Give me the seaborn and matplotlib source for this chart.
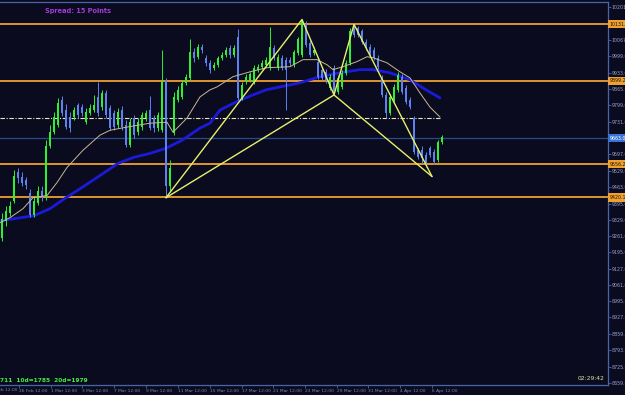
import numpy as np
import pandas as pd
import matplotlib
matplotlib.use("Agg")
import matplotlib.pyplot as plt
import matplotlib.transforms as mtransforms
import seaborn as sns

# ---------------- data ----------------
opens = [9254, 9324, 9357, 9407, 9523, 9506, 9490, 9440, 9349, 9399,
         9448, 9419, 9630, 9688, 9717, 9820, 9779, 9750, 9750, 9800,
         9791, 9729, 9767, 9779, 9833, 9791, 9849, 9787, 9767, 9717,
         9779, 9717, 9634, 9746, 9688, 9709, 9746, 9779, 9746, 9705,
         9696, 9903, 9469, 9684, 9820, 9833, 9891, 9911, 10019, 9998,
         10040, 9994, 9973, 9953, 9965, 9994, 10007, 10035, 10007, 10081,
         9829, 9895, 9903, 9895, 9945, 9957, 9965, 9953, 10035, 9953,
         9994, 9986, 9986, 9965, 10015, 10007, 10131, 10056, 10015, 9978,
         9945, 9936, 9870, 9953, 9854, 9874, 9932, 9973, 10131, 10118,
         10102, 10060, 10040, 10027, 9994, 9911, 9841, 9767, 9820, 9862,
         9916, 9870, 9820, 9746, 9614, 9614, 9593, 9622, 9605, 9572,
         9647]
highs = [9357, 9386, 9407, 9531, 9539, 9523, 9506, 9456, 9423, 9465,
         9465, 9655, 9717, 9771, 9829, 9837, 9804, 9771, 9791, 9808,
         9804, 9787, 9804, 9841, 9895, 9862, 9862, 9800, 9779, 9787,
         9796, 9738, 9746, 9758, 9746, 9771, 9779, 9837, 9758, 9771,
         10027, 9911, 9572, 9854, 9878, 9903, 9928, 10069, 10035, 10052,
         10052, 10007, 9986, 9978, 10002, 10019, 10040, 10048, 10048, 10110,
         9895, 9928, 9936, 9965, 9969, 9986, 9998, 10122, 10048, 10011,
         10007, 9998, 9998, 10027, 10081, 10151, 10143, 10069, 10040, 9994,
         9957, 9949, 9928, 9965, 9924, 9945, 9986, 10118, 10135, 10126,
         10110, 10069, 10052, 10040, 10007, 9924, 9854, 9845, 9887, 9936,
         9928, 9882, 9833, 9754, 9622, 9630, 9605, 9630, 9618, 9655,
         9676]
lows = [9241, 9303, 9345, 9399, 9481, 9465, 9456, 9341, 9341, 9390,
        9407, 9411, 9622, 9680, 9709, 9754, 9700, 9688, 9738, 9746,
        9754, 9721, 9758, 9771, 9754, 9779, 9746, 9696, 9696, 9705,
        9696, 9626, 9626, 9663, 9676, 9696, 9734, 9696, 9688, 9692,
        9688, 9419, 9448, 9676, 9812, 9825, 9882, 9903, 9978, 9990,
        10015, 9961, 9932, 9945, 9957, 9986, 9998, 9994, 9998, 9820,
        9820, 9887, 9895, 9887, 9936, 9949, 9957, 9945, 9986, 9945,
        9945, 9779, 9961, 9957, 10007, 9998, 10040, 9998, 10007, 9907,
        9903, 9891, 9862, 9841, 9845, 9866, 9924, 9965, 10081, 10081,
        10052, 10027, 9998, 9986, 9949, 9833, 9746, 9758, 9812, 9854,
        9845, 9804, 9783, 9597, 9576, 9560, 9543, 9585, 9556, 9564,
        9638]
closes = [9332, 9365, 9386, 9510, 9498, 9481, 9473, 9349, 9407, 9448,
          9419, 9630, 9688, 9750, 9808, 9767, 9709, 9705, 9779, 9758,
          9767, 9771, 9787, 9800, 9767, 9849, 9758, 9705, 9709, 9771,
          9709, 9634, 9729, 9676, 9729, 9758, 9767, 9705, 9705, 9758,
          9895, 9469, 9539, 9833, 9862, 9891, 9916, 10019, 9994, 10040,
          10027, 9973, 9945, 9965, 9994, 10007, 10027, 10007, 10035, 9829,
          9882, 9916, 9928, 9953, 9957, 9973, 9986, 10040, 9994, 9998,
          9953, 9945, 9973, 10019, 10069, 10143, 10048, 10007, 10027, 9916,
          9911, 9903, 9916, 9849, 9911, 9932, 9973, 10102, 10089, 10089,
          10060, 10035, 10007, 9994, 9957, 9841, 9767, 9833, 9874, 9924,
          9854, 9812, 9791, 9605, 9585, 9581, 9552, 9593, 9564, 9647,
          9667]

ma_slow_idx = [-0.5, 8, 12, 16, 20, 24.5, 29, 33, 37, 41, 45, 49.5, 52, 54.5,
               59.5, 66, 74.5, 79.5, 84.5, 89.5, 92.75, 97, 102, 106, 109.5]
ma_slow_val = [9324, 9345, 9374, 9419, 9461, 9510, 9560, 9585, 9601, 9622, 9655,
               9705, 9725, 9779, 9820, 9862, 9891, 9916, 9932, 9945, 9945, 9932,
               9903, 9862, 9829]

ma_fast_idx = [-0.5, 2, 5.25, 7.75, 11.25, 13.75, 16.25, 20.25, 24.5, 27, 31.25,
               37, 41.25, 42.75, 46.25, 49.5, 52, 53.75, 57.75, 62, 66.25, 72,
               75.25, 78.75, 81.25, 82.75, 85.25, 88.75, 91.25, 92.75, 96.25,
               99.5, 102, 104.5, 107, 109.5]
ma_fast_val = [9316, 9337, 9374, 9419, 9428, 9481, 9543, 9614, 9676, 9696, 9709,
               9725, 9729, 9688, 9746, 9833, 9862, 9874, 9916, 9936, 9953, 9957,
               9986, 9986, 9965, 9945, 9957, 9978, 9998, 9994, 9973, 9936, 9911,
               9849, 9791, 9750]

pattern_labels = ["X", "A", "B", "C", "D"]
pattern_idx = [41, 75, 83, 88, 107.5]
pattern_val = [9419, 10151, 9841, 10131, 9506]

level_values = [10131.4, 9899.2, 9556.2, 9420.1]
bid_value = 9663.0
dashdot_value = 9746

ytick_values = [10201, 10135, 10067, 9999, 9933, 9865, 9799, 9731, 9663, 9597,
                9529, 9463, 9395, 9329, 9261, 9195, 9127, 9061, 8995, 8927,
                8859, 8793, 8725, 8659]
hidden_ticks = [10135, 9663]   # covered by the level labels in the reference
xtick_pos = [-3.75, 4.25, 12.2, 20.1, 28.1, 36.0, 44.0, 51.9, 59.9, 67.8,
             75.8, 83.7, 91.6, 99.6, 107.5]
xtick_labels = ["24 Feb 12:00", "26 Feb 12:00", "1 Mar 12:00", "3 Mar 12:00",
                "7 Mar 12:00", "9 Mar 12:00", "11 Mar 12:00", "15 Mar 12:00",
                "17 Mar 12:00", "21 Mar 12:00", "23 Mar 12:00", "29 Mar 12:00",
                "31 Mar 12:00", "4 Apr 12:00", "6 Apr 12:00"]

# ---------------- style ----------------
BG = "#0b0b20"
SPINE = "#4a64a8"
sns.set_theme(style="dark", rc={"axes.facecolor": BG, "figure.facecolor": BG,
                                "axes.edgecolor": SPINE, "grid.color": BG})
plt.rcParams["font.family"] = ["DejaVu Sans"]

fig = plt.figure(figsize=(6.25, 3.95), dpi=100)
ax = fig.add_axes([0, 10 / 395, 607.5 / 625, 383 / 395])
ax.set_facecolor(BG)

df = pd.DataFrame({"open": opens, "high": highs, "low": lows, "close": closes})
df["idx"] = np.arange(len(df))
up = df["close"] >= df["open"]
GREEN = "#2ef02e"
BLUE = "#5c82f0"
colors = np.where(up, GREEN, BLUE)

# horizontal levels (behind candles)
for v in level_values:
    ax.axhline(v, color="#f0a030", lw=1.3, zorder=1)
ax.axhline(bid_value, color="#2a4a8a", lw=0.9, zorder=1)
ax.plot([-0.5, 109.5], [dashdot_value, dashdot_value], color="#e8e8c0",
        lw=0.8, ls=(0, (4, 1.5, 1, 1.5)), zorder=1)

# candles
ax.vlines(df["idx"], df["low"], df["high"], colors=colors, lw=0.7, zorder=3)
body_lo = np.minimum(df["open"], df["close"])
body_h = np.maximum(np.abs(df["close"] - df["open"]), 4)
ax.bar(df["idx"], body_h, bottom=body_lo, width=0.74, color=colors,
       linewidth=0, zorder=4)

# moving averages
sns.lineplot(x=ma_slow_idx, y=ma_slow_val, color="#1a1ad8", lw=2.0, ax=ax,
             estimator=None, sort=False, legend=False, zorder=2)
sns.lineplot(x=ma_fast_idx, y=ma_fast_val, color="#c8b890", lw=0.7, ax=ax,
             estimator=None, sort=False, legend=False, zorder=5)

# harmonic pattern
PAT = "#e6f06a"
sns.lineplot(x=pattern_idx, y=pattern_val, color=PAT, lw=1.0, ax=ax,
             estimator=None, sort=False, legend=False, zorder=6)
sns.lineplot(x=[pattern_idx[0], pattern_idx[2], pattern_idx[4]],
             y=[pattern_val[0], pattern_val[2], pattern_val[4]],
             color=PAT, lw=1.0, ax=ax, estimator=None, sort=False,
             legend=False, zorder=6)

# axes setup
ax.set_xlim(-0.5, 151.375)
ax.set_ylim(8649.6, 10222.8)
ax.grid(False)
for s in ["top", "right", "bottom"]:
    ax.spines[s].set_visible(True)
    ax.spines[s].set_color(SPINE)
    ax.spines[s].set_linewidth(0.9)
ax.spines["left"].set_visible(False)

ax.yaxis.tick_right()
ax.set_yticks(ytick_values)
ax.set_yticklabels(["" if v in hidden_ticks else f"{v:.1f}" for v in ytick_values])
ax.tick_params(axis="y", which="major", direction="out", length=2, width=0.6,
               color=SPINE, labelsize=3.4, labelcolor="#9aa2c4", pad=1.0,
               right=True, left=False)

ax.set_xticks(xtick_pos[1:])
ax.set_xticklabels(xtick_labels[1:])
ax.tick_params(axis="x", which="major", direction="out", length=2, width=0.6,
               color=SPINE, labelsize=3.2, labelcolor="#7c88b8", pad=0.8,
               bottom=True)
for lab in ax.get_xticklabels():
    lab.set_horizontalalignment("left")
trans_x = mtransforms.blended_transform_factory(ax.transData, ax.transAxes)
ax.text(xtick_pos[0] + 0.5, -0.009, xtick_labels[0], transform=trans_x,
        ha="left", va="top", fontsize=3.2, color="#7c88b8", clip_on=False)
ax.set_xlabel("")
ax.set_ylabel("")

# level labels on the price scale
trans_y = mtransforms.blended_transform_factory(ax.transAxes, ax.transData)
for v in level_values:
    ax.text(1.004, v, f"{v:.1f}", transform=trans_y, ha="left", va="center",
            fontsize=3.4, color="#1a1208", clip_on=False, zorder=10,
            bbox=dict(boxstyle="square,pad=0.35", fc="#f0a030", ec="none"))
ax.text(1.004, bid_value, f"{bid_value:.1f}", transform=trans_y, ha="left",
        va="center", fontsize=3.4, color="white", clip_on=False, zorder=10,
        bbox=dict(boxstyle="square,pad=0.35", fc="#3a72d8", ec="none"))

# annotations
fig.text(45 / 625, 1 - 11 / 395, "Spread: 15 Points", fontsize=4.8,
         fontweight="bold", color="#a638d8", ha="left", va="center")
fig.text(0 / 625, 1 - 380 / 395, "711  10d=1785  20d=1979", fontsize=4.2,
         fontweight="bold", color="#3ef03e", ha="left", va="center")
fig.text(605 / 625, 1 - 379 / 395, "02:29:42", fontsize=4.3,
         color="#e6e6a6", ha="right", va="center")

fig.savefig("out.png", dpi=100, facecolor=BG)
